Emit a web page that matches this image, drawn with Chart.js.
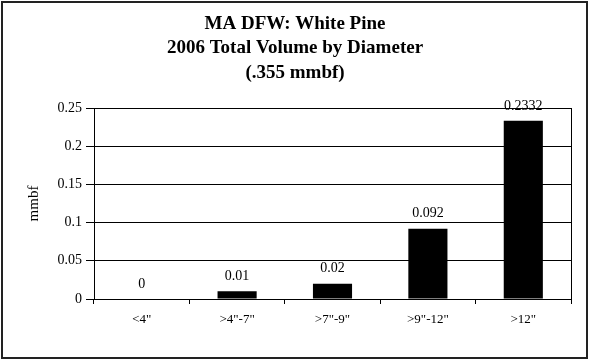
<!DOCTYPE html>
<html>
<head>
<meta charset="utf-8">
<script src="https://cdn.jsdelivr.net/npm/chart.js@4.4.0/dist/chart.umd.min.js"></script>
<style>
  html, body { margin: 0; padding: 0; background: #fff; }
  #wrap { position: relative; width: 589px; height: 360px; }
  #frame { position: absolute; left: 1px; top: 1px; width: 583px; height: 354px; border: 2px solid #222; pointer-events: none; }
</style>
</head>
<body>
<div id="wrap">
  <canvas id="chart" width="589" height="360"></canvas>
  <div id="frame"></div>
</div>
<script>
const categories = ['<4"', '>4"-7"', '>7"-9"', '>9"-12"', '>12"'];
const volumes = [0, 0.01, 0.02, 0.092, 0.2332];
const valueLabels = ['0', '0.01', '0.02', '0.092', '0.2332'];
const titleLines = ['MA DFW: White Pine', '2006 Total Volume by Diameter', '(.355 mmbf)'];

const serif = '"Liberation Serif", "Times New Roman", serif';

// title, value labels and the right edge of the plot box
const extras = {
  id: 'extras',
  afterDraw(chart) {
    const ctx = chart.ctx;
    const area = chart.chartArea;
    ctx.save();
    ctx.strokeStyle = '#000';
    ctx.lineWidth = 1;
    ctx.beginPath();
    ctx.moveTo(Math.round(area.right) + 0.5, area.top);
    ctx.lineTo(Math.round(area.right) + 0.5, area.bottom);
    ctx.stroke();

    ctx.fillStyle = '#000';
    ctx.textAlign = 'center';
    ctx.textBaseline = 'middle';
    ctx.font = 'bold 19px ' + serif;
    titleLines.forEach((t, i) => ctx.fillText(t, 295, 24 + i * 24.5));

    ctx.font = '14px ' + serif;
    const meta = chart.getDatasetMeta(0);
    meta.data.forEach((bar, i) => {
      ctx.fillText(valueLabels[i], bar.x, bar.y - 15);
    });
    ctx.restore();
  }
};

new Chart(document.getElementById('chart'), {
  type: 'bar',
  data: {
    labels: categories,
    datasets: [{
      data: volumes,
      backgroundColor: '#000',
      borderWidth: 0,
      categoryPercentage: 1,
      barPercentage: 0.41
    }]
  },
  options: {
    responsive: false,
    animation: false,
    layout: { padding: { top: 108, right: 18, bottom: 0, left: 0 } },
    plugins: {
      legend: { display: false },
      title: { display: false },
      tooltip: { enabled: false }
    },
    scales: {
      x: {
        grid: { offset: true, drawOnChartArea: false, tickLength: 5, color: '#000' },
        border: { color: '#000', width: 1 },
        ticks: { color: '#000', font: { family: serif, size: 13 }, padding: 8, maxRotation: 0 },
        afterFit(scale) { scale.height = 61; }
      },
      y: {
        min: 0,
        max: 0.25,
        ticks: {
          stepSize: 0.05,
          color: '#000',
          font: { family: serif, size: 14 },
          padding: 4,
          callback: (v) => String(+v.toFixed(2))
        },
        grid: { color: '#000', tickLength: 8 },
        border: { color: '#000', width: 1 },
        title: {
          display: true, text: 'mmbf', color: '#000',
          font: { family: serif, size: 15 },
          padding: { top: 25, bottom: 0 }
        },
        afterFit(scale) { scale.width = 94; }
      }
    }
  },
  plugins: [extras]
});
</script>
</body>
</html>
